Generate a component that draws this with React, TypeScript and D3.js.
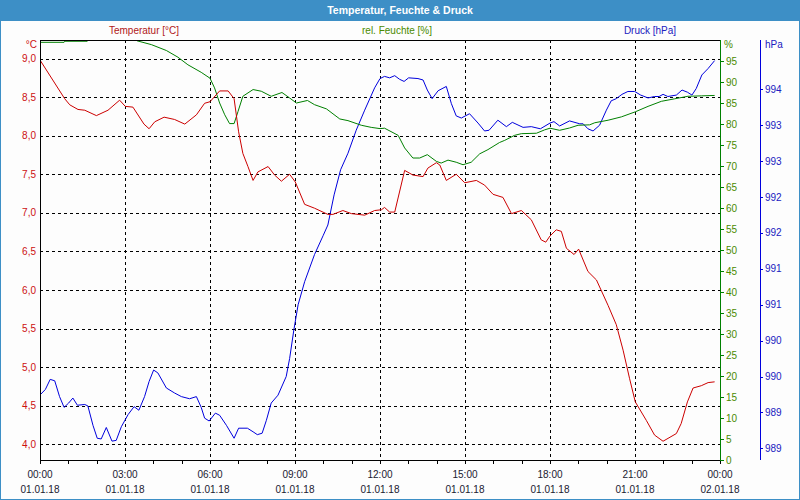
import React from "react";
import * as d3 from "d3";

// ---- Data (hours since 01.01.18 00:00) ----
const tempTimes = [0, 0.87, 1.05, 1.34, 1.58, 1.99, 2.4, 2.81, 3.01, 3.28, 3.67, 3.85, 4.05, 4.38, 4.75, 5.11, 5.52, 5.81, 6.0, 6.34, 6.64, 6.85, 7.01, 7.16, 7.34, 7.52, 7.69, 8.05, 8.28, 8.52, 8.81, 9.01, 9.34, 9.69, 10.16, 10.34, 10.69, 10.99, 11.46, 11.81, 12.05, 12.16, 12.34, 12.52, 12.87, 13.16, 13.52, 13.69, 13.99, 14.11, 14.34, 14.69, 14.99, 15.4, 15.69, 15.99, 16.34, 16.64, 16.99, 17.34, 17.69, 17.85, 18.0, 18.22, 18.4, 18.58, 18.85, 19.01, 19.34, 19.64, 20.05, 20.34, 20.58, 20.81, 21.01, 21.4, 21.69, 21.99, 22.46, 22.63, 22.85, 23.05, 23.34, 23.58, 23.81];
const tempValues = [8.98, 8.48, 8.4, 8.34, 8.33, 8.26, 8.33, 8.46, 8.38, 8.37, 8.15, 8.09, 8.18, 8.24, 8.21, 8.15, 8.27, 8.42, 8.44, 8.58, 8.58, 8.48, 8.05, 7.77, 7.6, 7.42, 7.53, 7.6, 7.49, 7.41, 7.5, 7.4, 7.11, 7.06, 6.98, 6.98, 7.03, 6.99, 6.97, 7.03, 7.04, 7.07, 7.01, 7.01, 7.55, 7.49, 7.47, 7.58, 7.65, 7.62, 7.42, 7.5, 7.39, 7.42, 7.36, 7.24, 7.2, 6.99, 7.03, 6.91, 6.65, 6.62, 6.7, 6.78, 6.76, 6.54, 6.46, 6.53, 6.24, 6.13, 5.8, 5.55, 5.22, 4.85, 4.55, 4.31, 4.12, 4.04, 4.14, 4.27, 4.55, 4.73, 4.76, 4.8, 4.81];

const humTimes = [0, 0.85, 0.87, 1.67, 1.7, 3.4, 3.43, 3.93, 4.46, 4.87, 5.22, 5.69, 6.0, 6.16, 6.34, 6.52, 6.69, 6.85, 6.99, 7.16, 7.52, 7.81, 8.16, 8.54, 8.81, 9.05, 9.44, 9.69, 10.11, 10.58, 10.87, 11.34, 11.69, 12.0, 12.16, 12.64, 12.87, 13.16, 13.4, 13.67, 13.99, 14.16, 14.4, 14.69, 14.93, 15.22, 15.52, 15.81, 16.22, 16.4, 16.75, 16.99, 17.52, 17.81, 18.0, 18.34, 18.69, 18.99, 19.4, 19.58, 20.05, 20.52, 21.01, 21.46, 21.93, 22.4, 22.87, 23.34, 23.81];
const humValues = [99.45, 99.45, 99.7, 99.7, 100, 100, 99.8, 98.9, 97.5, 95.9, 94.1, 92.3, 90.9, 88.6, 85.0, 82.2, 80.1, 80.1, 83.0, 86.6, 88.2, 87.8, 86.6, 87.5, 86.2, 85.0, 85.6, 84.6, 83.6, 81.2, 80.8, 79.7, 79.2, 78.9, 79.0, 77.3, 74.3, 71.9, 71.9, 72.7, 71.1, 70.7, 71.4, 70.9, 70.3, 70.9, 72.9, 73.9, 75.6, 76.1, 77.3, 77.7, 77.8, 78.6, 79.0, 78.5, 79.05, 79.7, 79.8, 80.3, 80.9, 81.7, 82.9, 84.2, 85.4, 86.0, 86.6, 86.7, 86.8];

const pressTimes = [0.02, 0.19, 0.36, 0.52, 0.69, 0.85, 1.01, 1.16, 1.32, 1.58, 1.69, 1.87, 2.02, 2.16, 2.34, 2.54, 2.69, 2.87, 3.11, 3.32, 3.49, 3.69, 3.85, 4.01, 4.16, 4.46, 4.75, 4.99, 5.28, 5.52, 5.69, 5.81, 5.97, 6.19, 6.34, 6.58, 6.85, 7.01, 7.32, 7.52, 7.67, 7.84, 7.99, 8.16, 8.4, 8.69, 8.81, 8.96, 9.11, 9.34, 9.69, 9.99, 10.16, 10.38, 10.61, 10.87, 11.16, 11.46, 11.81, 12.0, 12.16, 12.34, 12.52, 12.69, 12.85, 13.01, 13.34, 13.52, 13.67, 13.84, 14.05, 14.34, 14.52, 14.69, 14.87, 15.16, 15.46, 15.69, 15.85, 16.16, 16.46, 16.67, 17.05, 17.34, 17.66, 18.0, 18.14, 18.34, 18.69, 19.05, 19.17, 19.34, 19.52, 19.75, 19.99, 20.16, 20.34, 20.54, 20.75, 20.99, 21.2, 21.46, 21.69, 21.85, 21.99, 22.16, 22.46, 22.66, 22.85, 23.01, 23.16, 23.36, 23.58, 23.81];
const pressValues = [989.75, 989.82, 989.96, 989.94, 989.72, 989.57, 989.63, 989.7, 989.6, 989.61, 989.59, 989.32, 989.14, 989.13, 989.29, 989.1, 989.11, 989.3, 989.47, 989.58, 989.53, 989.72, 989.93, 990.09, 990.05, 989.84, 989.77, 989.72, 989.69, 989.72, 989.57, 989.42, 989.38, 989.49, 989.46, 989.32, 989.14, 989.28, 989.28, 989.23, 989.19, 989.21, 989.39, 989.63, 989.74, 990.0, 990.25, 990.65, 991.0, 991.32, 991.7, 991.96, 992.11, 992.53, 992.88, 993.11, 993.43, 993.71, 994.02, 994.15, 994.18, 994.16, 994.19, 994.14, 994.11, 994.16, 994.15, 994.13, 993.99, 993.87, 993.98, 994.04, 993.8, 993.63, 993.6, 993.66, 993.53, 993.42, 993.43, 993.57, 993.48, 993.54, 993.47, 993.48, 993.45, 993.53, 993.55, 993.49, 993.56, 993.52, 993.52, 993.45, 993.42, 993.5, 993.71, 993.84, 993.87, 993.93, 993.97, 993.97, 993.92, 993.88, 993.9, 993.9, 993.93, 993.9, 993.92, 993.99, 993.96, 993.92, 994.01, 994.2, 994.29, 994.4];

const tempTicks = [4.0, 4.5, 5.0, 5.5, 6.0, 6.5, 7.0, 7.5, 8.0, 8.5, 9.0];
const humTicks = [0, 5, 10, 15, 20, 25, 30, 35, 40, 45, 50, 55, 60, 65, 70, 75, 80, 85, 90, 95];
const pressTicks = [989, 989.5, 990, 990.5, 991, 991.5, 992, 992.5, 993, 993.5, 994];
const timeTicks = [0, 3, 6, 9, 12, 15, 18, 21, 24];
const timeLabels = ["00:00", "03:00", "06:00", "09:00", "12:00", "15:00", "18:00", "21:00", "00:00"];
const dateLabels = ["01.01.18", "01.01.18", "01.01.18", "01.01.18", "01.01.18", "01.01.18", "01.01.18", "01.01.18", "02.01.18"];

const title = "Temperatur, Feuchte & Druck";
const seriesNames = ["Temperatur [°C]", "rel. Feuchte [%]", "Druck [hPa]"];

const W = 800, H = 500;
const L = 40, R = 720, T = 40, B = 460;
const FONT = "'Liberation Sans', Arial, sans-serif";

export default function App() {
  const x = d3.scaleLinear().domain([0, 24]).range([L, R]);
  const yT = d3.scaleLinear().domain([3.797, 9.24]).range([B, T]);
  const yH = d3.scaleLinear().domain([0, 100]).range([B, T]);
  const yP = d3.scaleLinear().domain([988.837, 994.687]).range([B, T]);

  const tempLine = d3.line<number>().x((_, i) => x(tempTimes[i])).y((d) => yT(d));
  const humLine = d3.line<number>().x((_, i) => x(humTimes[i])).y((d) => yH(d));
  const pressLine = d3.line<number>().x((_, i) => x(pressTimes[i])).y((d) => yP(d));

  const hourTicks = d3.range(0, 25);
  const fmtT = (v: number) => v.toFixed(1).replace(".", ",");

  return (
    <svg width={W} height={H} style={{ position: "absolute", left: 0, top: 0 }} fontFamily={FONT}>
      <rect x={0} y={0} width={W} height={H} fill="#fdfdfd" />
      {/* title bar */}
      <rect x={0} y={0} width={W} height={21} fill="#3d8fc6" />
      <text x={400} y={10.5} dy="0.35em" textAnchor="middle" fill="#ffffff" fontWeight="bold" fontSize={10.5}>{title}</text>
      {/* window border */}
      <rect x={0.5} y={0.5} width={W - 1} height={H - 1} fill="none" stroke="#3d8fc6" strokeWidth={1} />

      <defs>
        <clipPath id="plotClip">
          <rect x={L} y={T} width={R - L} height={B - T} />
        </clipPath>
      </defs>

      {/* legend titles */}
      <text x={144} y={30} dy="0.35em" textAnchor="middle" fontSize={10} fill="#b01818">{seriesNames[0]}</text>
      <text x={397} y={30} dy="0.35em" textAnchor="middle" fontSize={10} fill="#4a8a00">{seriesNames[1]}</text>
      <text x={650} y={30} dy="0.35em" textAnchor="middle" fontSize={10} fill="#2020c0">{seriesNames[2]}</text>

      {/* gridlines */}
      <g stroke="#000" strokeDasharray="3,3" shapeRendering="crispEdges">
        {tempTicks.map((v) => (
          <line key={"h" + v} x1={L} x2={R} y1={Math.round(yT(v)) + 0.5} y2={Math.round(yT(v)) + 0.5} />
        ))}
        {timeTicks.slice(1, -1).map((v) => (
          <line key={"v" + v} x1={Math.round(x(v)) + 0.5} x2={Math.round(x(v)) + 0.5} y1={T} y2={B} />
        ))}
      </g>

      {/* series */}
      <g clipPath="url(#plotClip)" fill="none" strokeWidth={1}>
        <path d={pressLine(pressValues) || ""} stroke="#0000dd" />
        <path d={humLine(humValues) || ""} stroke="#008000" />
        <path d={tempLine(tempValues) || ""} stroke="#cc0000" />
      </g>

      {/* frame */}
      <g shapeRendering="crispEdges">
        <line x1={L} x2={R} y1={T + 0.5} y2={T + 0.5} stroke="#000" />
        <line x1={L + 0.5} x2={L + 0.5} y1={T} y2={B} stroke="#000" />
        <line x1={L} x2={R} y1={B + 0.5} y2={B + 0.5} stroke="#000" />
        <line x1={R + 0.5} x2={R + 0.5} y1={T} y2={B + 1} stroke="#008000" />
        <line x1={760.5} x2={760.5} y1={T} y2={B} stroke="#0000dd" />
        {hourTicks.map((h) => (
          <line key={"t" + h} x1={Math.round(x(h)) + 0.5} x2={Math.round(x(h)) + 0.5} y1={B} y2={B + 4} stroke="#000" />
        ))}
        {humTicks.map((v) => (
          <line key={"ht" + v} x1={R} x2={R + 4} y1={Math.round(yH(v)) + 0.5} y2={Math.round(yH(v)) + 0.5} stroke="#008000" />
        ))}
        {pressTicks.map((v) => (
          <line key={"pt" + v} x1={760} x2={763} y1={Math.round(yP(v)) + 0.5} y2={Math.round(yP(v)) + 0.5} stroke="#0000dd" />
        ))}
      </g>

      {/* left axis labels */}
      <text x={37} y={44} dy="0.35em" textAnchor="end" fontSize={10} fill="#cc1010">°C</text>
      {tempTicks.map((v) => (
        <text key={"tl" + v} x={36} y={yT(v)} dy="0.35em" textAnchor="end" fontSize={10} fill="#cc1010">{fmtT(v)}</text>
      ))}

      {/* humidity axis labels */}
      <text x={724} y={44} dy="0.35em" fontSize={10} fill="#4a8a00">%</text>
      {humTicks.map((v) => (
        <text key={"hl" + v} x={726} y={yH(v)} dy="0.35em" fontSize={10} fill="#4a8a00">{v}</text>
      ))}

      {/* pressure axis labels */}
      <text x={765} y={44} dy="0.35em" fontSize={10} fill="#2020c0">hPa</text>
      {pressTicks.map((v) => (
        <text key={"pl" + v} x={765} y={yP(v)} dy="0.35em" fontSize={10} fill="#2020c0">{Math.floor(v)}</text>
      ))}

      {/* time axis labels */}
      {timeTicks.map((v, i) => (
        <g key={"x" + v}>
          <text x={x(v)} y={474} dy="0.35em" textAnchor="middle" fontSize={10} fill="#202030">{timeLabels[i]}</text>
          <text x={x(v)} y={489} dy="0.35em" textAnchor="middle" fontSize={10} fill="#202030">{dateLabels[i]}</text>
        </g>
      ))}
    </svg>
  );
}
